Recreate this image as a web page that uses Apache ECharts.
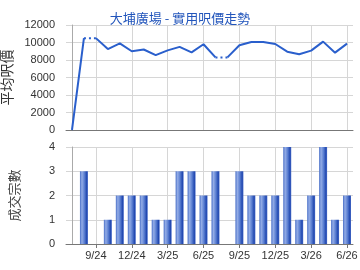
<!DOCTYPE html>
<html lang="zh">
<head>
    <meta charset="UTF-8">
    <title>大埔廣場</title>
    <script src="https://cdn.jsdelivr.net/npm/echarts@6/dist/echarts.min.js"></script>
    <style>
        html, body { margin: 0; padding: 0; background: #fff; }
        #main { width: 360px; height: 270px; }
    </style>
</head>
<body>
<div id="main"></div>
<script type="text/javascript">
    // 月份
    var months = ['7/24','8/24','9/24','10/24','11/24','12/24','1/25','2/25','3/25','4/25','5/25','6/25',
                  '7/25','8/25','9/25','10/25','11/25','12/25','1/26','2/26','3/26','4/26','5/26','6/26'];
    // 有標示的月份
    var tickMonths = ['9/24','12/24','3/25','6/25','9/25','12/25','3/26','6/26'];
    // 平均呎價 (實線部分)
    var priceA = [0, 10500, null, null, null, null, null, null, null, null, null, null,
                  null, 8300, 9680, 10060, 10060, 9830, 8950, 8650, 9070, 10100, 8840, 9870];
    var priceB = [null, null, 10500, 9250, 9900, 9000, 9200, 8550, 9100, 9500, 8880, 9800,
                  8300, null, null, null, null, null, null, null, null, null, null, null];
    // 沒有成交的月份 (虛線)
    var priceGap = [null, 10500, 10500, null, null, null, null, null, null, null, null, null,
                    8300, 8300, null, null, null, null, null, null, null, null, null, null];
    // 成交宗數
    var deals = [0, 3, 0, 1, 2, 2, 2, 1, 1, 3, 3, 2, 3, 0, 3, 2, 2, 2, 4, 1, 2, 4, 1, 2];

    var myChart = echarts.init(document.getElementById('main'), null, { renderer: 'canvas' });

    var tickIdx = tickMonths.map(function (m) { return months.indexOf(m); });
    var pairs = function (arr) { return arr.map(function (v, i) { return [i, v == null ? '-' : v]; }); };

    var lineColor = '#2a5fcc';
    var gridColor = '#d6d6d6';
    var labelStyle = { color: '#333', fontSize: 11, fontFamily: 'Liberation Sans, Arial, sans-serif' };

    var barColor = new echarts.graphic.LinearGradient(0, 0, 1, 0, [
        { offset: 0, color: '#4a70c8' },
        { offset: 0.25, color: '#93ace6' },
        { offset: 0.55, color: '#5c80d2' },
        { offset: 0.85, color: '#2148b0' },
        { offset: 1, color: '#4a6cc8' }
    ]);

    function xAxisOf(gridIndex, showLabel) {
        return {
            type: 'value',
            gridIndex: gridIndex,
            min: -0.5,
            max: months.length - 0.5,
            axisLine: { show: true, onZero: false, lineStyle: { color: '#777', width: 1 } },
            axisTick: { show: showLabel, customValues: tickIdx, length: 4, lineStyle: { color: '#777' } },
            axisLabel: Object.assign({
                show: showLabel, customValues: tickIdx, margin: 6, showMinLabel: true, showMaxLabel: true,
                formatter: function (v) { return months[Math.round(v)]; }
            }, labelStyle),
            splitLine: { show: true, lineStyle: { color: gridColor } }
        };
    }

    var option = {
        animation: false,
        title: {
            text: '大埔廣場 - 實用呎價走勢',
            left: 'center',
            top: 7,
            textStyle: { color: '#2255bb', fontSize: 13, fontWeight: 'normal', fontFamily: 'Noto Sans CJK TC' }
        },
        grid: [
            { left: 66, right: 7, top: 25, height: 105, containLabel: false, outerBoundsMode: 'none' },
            { left: 66, right: 7, top: 147, height: 97, containLabel: false, outerBoundsMode: 'none' }
        ],
        xAxis: [xAxisOf(0, false), xAxisOf(1, true)],
        yAxis: [
            {
                type: 'value', gridIndex: 0, min: 0, max: 12000, interval: 2000,
                name: '平均呎價', nameLocation: 'middle', nameGap: 47, nameRotate: 90,
                nameTextStyle: { color: '#333', fontSize: 14, fontFamily: 'Noto Sans CJK TC' },
                axisLine: { show: true, lineStyle: { color: '#aaa' } },
                axisTick: { show: false },
                axisLabel: Object.assign({ margin: 11, formatter: function (v) { return String(v); } }, labelStyle),
                splitLine: { lineStyle: { color: gridColor } }
            },
            {
                type: 'value', gridIndex: 1, min: 0, max: 4, interval: 1,
                name: '成交宗數', nameLocation: 'middle', nameGap: 45, nameRotate: 90,
                nameTextStyle: { color: '#444', fontSize: 13, fontFamily: 'Noto Sans CJK TC' },
                axisLine: { show: true, lineStyle: { color: '#aaa' } },
                axisTick: { show: false },
                axisLabel: Object.assign({ margin: 11 }, labelStyle),
                splitLine: { lineStyle: { color: gridColor } }
            }
        ],
        series: [
            {
                type: 'line', xAxisIndex: 0, yAxisIndex: 0, data: pairs(priceA), z: 10,
                symbol: 'none', connectNulls: false,
                lineStyle: { color: lineColor, width: 2 }
            },
            {
                type: 'line', xAxisIndex: 0, yAxisIndex: 0, data: pairs(priceB), z: 10,
                symbol: 'none', connectNulls: false,
                lineStyle: { color: lineColor, width: 2 }
            },
            {
                type: 'line', xAxisIndex: 0, yAxisIndex: 0, data: pairs(priceGap), z: 10,
                symbol: 'none', connectNulls: false,
                lineStyle: { color: lineColor, width: 2, type: [2, 3] }
            },
            {
                type: 'bar', xAxisIndex: 1, yAxisIndex: 1, data: pairs(deals), z: 10,
                barWidth: 8,
                itemStyle: { color: barColor }
            }
        ]
    };

    myChart.setOption(option);
</script>
</body>
</html>
